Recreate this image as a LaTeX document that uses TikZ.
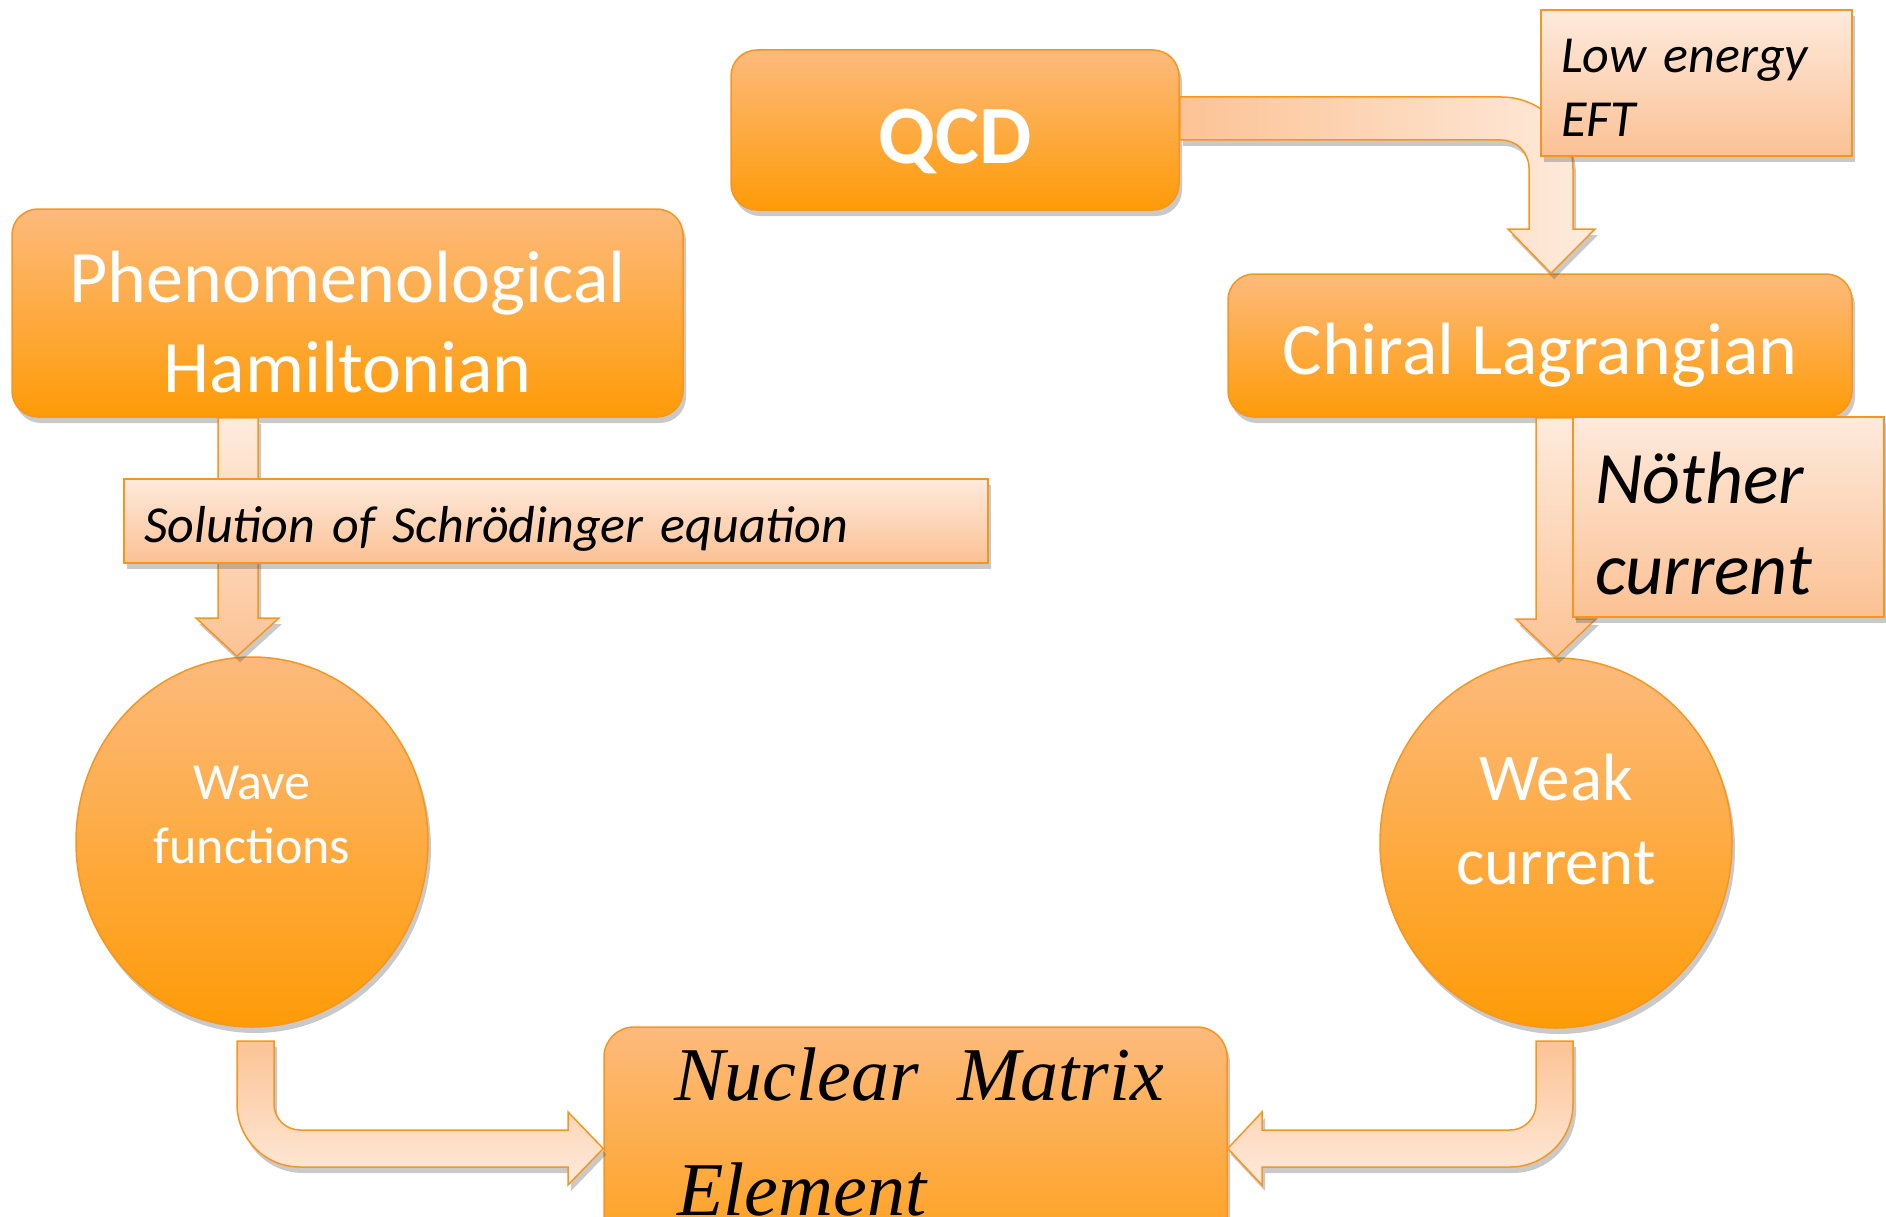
\documentclass[tikz,border=0pt]{standalone}
\usepackage{fontspec}
\setmainfont{Carlito}
\newfontfamily\timesfont{Liberation Serif}
\usetikzlibrary{shadows,calc,shapes.geometric}
\definecolor{otop}{HTML}{FDBA7C}
\definecolor{obot}{HTML}{FE9B07}
\definecolor{oline}{HTML}{F7961F}
\definecolor{ltop}{HTML}{FEEADC}
\definecolor{lbot}{HTML}{FBC194}
\definecolor{adark}{HTML}{FCC395}
\definecolor{alight}{HTML}{FEEBDD}
\tikzset{
 shad/.style={drop shadow={shadow xshift=3pt, shadow yshift=-6pt, opacity=0.3, fill=black!70}},
 mainbox/.style={rectangle, rounded corners=26pt, draw=oline, line width=1.5pt, top color=otop, bottom color=obot, shad, inner sep=0pt},
 circ/.style={ellipse, draw=oline, line width=1.5pt, top color=otop, bottom color=obot, shad, inner sep=0pt},
 lblbox/.style={rectangle, draw=oline, line width=2pt, top color=ltop, bottom color=lbot, shad, inner sep=0pt},
 wtext/.style={text=white, align=center, inner sep=0pt},
 btext/.style={text=black, align=left, inner sep=0pt},
 barrow/.style={draw=oline, line width=1.5pt, line join=miter},
}
\begin{document}
\begin{tikzpicture}[x=1pt,y=-1pt]
\useasboundingbox (0,0) rectangle (1886,1217);
\clip (0,0) rectangle (1886,1217);
% main nodes
\node[mainbox, minimum width=448pt, minimum height=160pt, label={[wtext, yshift=-11pt, font=\bfseries\fontsize{83}{100}\selectfont]center:QCD}] (qcd) at (955,130) {};
\node[mainbox, minimum width=671pt, minimum height=208pt, label={[wtext, yshift=-9pt, font=\fontsize{74}{90}\selectfont]center:Phenomenological\\Hamiltonian}] (ph) at (347.5,313) {};
\node[mainbox, minimum width=624pt, minimum height=143pt, label={[wtext, yshift=-10pt, font=\fontsize{74}{90}\selectfont]center:Chiral Lagrangian}] (chiral) at (1540,345.5) {};
\node[circ, minimum width=352pt, minimum height=370pt, label={[wtext, yshift=27pt, font=\fontsize{52}{64}\selectfont]center:Wave\\functions}] (wave) at (252,842) {};
\node[circ, minimum width=352pt, minimum height=370pt, label={[wtext, yshift=24pt, font=\fontsize{67}{84}\selectfont]center:Weak\\current}] (weak) at (1556,843) {};
\node[mainbox, rounded corners=30pt, minimum width=623pt, minimum height=280pt] (nme) at (915.5,1167) {};
\node[anchor=base west, inner sep=0pt, font=\timesfont\itshape\fontsize{76}{90}\selectfont] (nmeA) at (674,1100) {Nuclear\ \ Matrix};
\node[anchor=base west, inner sep=0pt, font=\timesfont\itshape\fontsize{76}{90}\selectfont] (nmeB) at (677,1215) {Element};
% block arrows
\draw[barrow, left color=adark, right color=alight, shad] (qcd.east |- 0,97) -- (1501,97) .. controls (1541,97) and (1573,129) .. (1573,169) -- (1573,229) -- (1595,229) -- (chiral.north -| 1551,0) -- (1508,229) -- (1529,229) -- (1529,168) .. controls (1529,152.5) and (1516.5,140) .. (1501,140) -- (qcd.east |- 0,140) -- cycle;
\draw[barrow, top color=alight, bottom color=adark, shad] (218,0 |- ph.south) -- (218,618) -- (196,618) -- (237,0 |- wave.north) -- (279,618) -- (258,618) -- (258,0 |- ph.south) -- cycle;
\draw[barrow, top color=alight, bottom color=adark, shad] (1536,0 |- chiral.south) -- (1536,619) -- (1516,619) -- (1556,0 |- weak.north) -- (1596,619) -- (1576,619) -- (1576,0 |- chiral.south) -- cycle;
\draw[barrow, top color=adark, bottom color=alight, shad] (237,1041) -- (237,1104) .. controls (237,1138.8) and (265.2,1167) .. (300,1167) -- (568,1167) -- (568,1185) -- (nme.west |- 0,1148.5) -- (568,1112) -- (568,1130) -- (300,1130) .. controls (285.6,1130) and (274,1118.4) .. (274,1104) -- (274,1041) -- cycle;
\draw[barrow, top color=adark, bottom color=alight, shad] (1573,1041) -- (1573,1104) .. controls (1573,1138.8) and (1544.8,1167) .. (1510,1167) -- (1262,1167) -- (1262,1185) -- (nme.east |- 0,1148.5) -- (1262,1112) -- (1262,1130) -- (1510,1130) .. controls (1524.4,1130) and (1536,1118.4) .. (1536,1104) -- (1536,1041) -- cycle;
% label boxes
\node[lblbox, minimum width=311pt, minimum height=146pt, label={[btext, text width=271pt, yshift=-5pt, font=\itshape\fontsize{52}{64}\selectfont]center:Low energy\\EFT}] (eft) at (1696.5,83) {};
\node[lblbox, minimum width=864pt, minimum height=84pt, label={[btext, text width=834pt, xshift=5pt, yshift=-8pt, font=\itshape\fontsize{52}{64}\selectfont]center:Solution of Schrödinger equation}] (sol) at (556,521) {};
\node[lblbox, minimum width=311pt, minimum height=200pt, label={[btext, text width=271pt, xshift=2pt, yshift=-7pt, font=\itshape\fontsize{74}{91}\selectfont]center:Nöther\\current}] (noether) at (1728.5,517) {};
\end{tikzpicture}
\end{document}
